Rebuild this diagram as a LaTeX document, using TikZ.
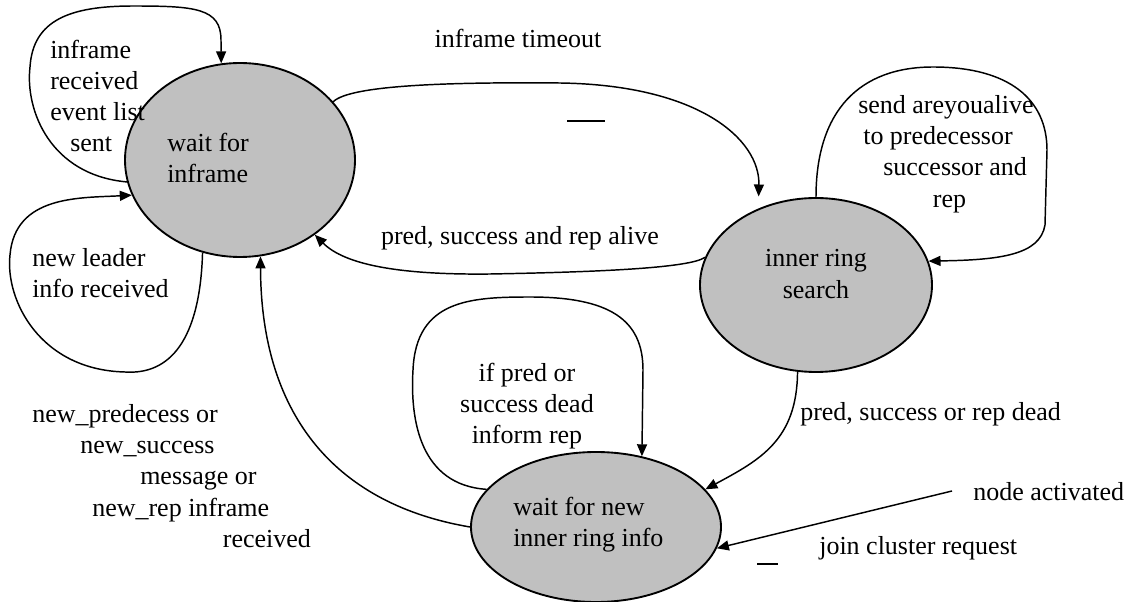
\documentclass[tikz,border=0pt]{standalone}
\usepackage{fontspec}
\setmainfont{Liberation Serif}
\usetikzlibrary{arrows.meta, shapes.geometric}

\begin{document}
\begin{tikzpicture}[
  x=0.75pt, y=-0.75pt,
  state/.style={ellipse, draw, line width=1.4pt, fill=stategray, inner sep=0pt},
  lbl/.style={inner sep=0pt, font=\fontsize{19.5}{23.4}\selectfont},
  e/.style={line width=1.1pt, -{Triangle[length=9pt,width=7.5pt]}},
  tick/.style={line width=1.1pt}
]
\definecolor{stategray}{HTML}{C0C0C0}
\useasboundingbox (0,0) rectangle (1133,602);

% --- states ---
\node[state, minimum width=172.5pt, minimum height=145.5pt] (F) at (240,160) {};
\node[state, minimum width=174pt, minimum height=130.5pt] (S) at (816,285) {};
\node[state, minimum width=187.5pt, minimum height=112.5pt] (N) at (596,527) {};

\node[lbl, align=left, anchor=west] (Ftext) at (167,158) {wait for\\inframe};
\node[lbl, align=center] (Stext) at (816,274) {inner ring\\search};
\node[lbl, align=left, anchor=west] (Ntext) at (513,525) {wait for new\\inner ring info};

% --- self loops ---
\draw[e] (F.191) .. controls (50,175) and (25,110) .. (30,67)
  .. controls (33,20) and (70,6) .. (133,6)
  .. controls (195,6) and (221,8) .. (221,40) -- (F.101);
\draw[e] (F.248) .. controls (200,340) and (170,375) .. (125,372)
  .. controls (40,370) and (5,300) .. (10,255)
  .. controls (15,195) and (80,198) .. (F.198);
\draw[e] (S.90) .. controls (816,110) and (860,67) .. (933,67)
  .. controls (1010,67) and (1047,100) .. (1047,150) -- (1045,225)
  .. controls (1040,255) and (1000,260) .. (S.12);
\draw[e] (N.161) .. controls (420,485) and (410,420) .. (413,370)
  .. controls (416,300) and (470,297) .. (530,297)
  .. controls (610,297) and (643,320) .. (643,370) -- (N.57);

\node[lbl, align=left, anchor=west] (loopF1) at (50,96) {inframe\\received\\event list\\\hspace*{15pt}sent};
\node[lbl, align=left, anchor=west] (loopF2) at (32,273) {new leader\\info received};
\node[lbl, align=left, anchor=west] (loopS) at (858,154) {send areyoualive\\\hspace*{3.75pt}to predecessor\\\hspace*{18.75pt}successor and\\\hspace*{56pt}rep};
\node[lbl, align=center] (loopN) at (527,406) {if pred or\\success dead\\inform rep};

% --- transitions ---
\draw[e, shorten >=9pt] (F.32) .. controls (350,85) and (450,82) .. (560,83)
  .. controls (700,85) and (760,140) .. (S.127);
\draw[e] (S.166) .. controls (690,268) and (600,272) .. (490,274)
  .. controls (400,275) and (345,265) .. (F.315);
\draw[e] (S.258) .. controls (797,440) and (760,460) .. (N.19);
\draw[e] (N.180) .. controls (340,505) and (261,420) .. (F.282);

\node[lbl] (tmo) at (518,38) {inframe timeout};
\node[lbl] (alive) at (520,238) {pred, success and rep alive};
\node[lbl, anchor=west] (dead) at (800,414) {pred, success or rep dead};
\node[lbl, align=left, anchor=west] (newinfo) at (32,476)
  {new\_predecess or\\\hspace*{36pt}new\_success\\\hspace*{81pt}message or\\\hspace*{45pt}new\_rep inframe\\\hspace*{143pt}received};

% --- node activated ---
\node[lbl, anchor=west] (act) at (973,492) {node activated};
\node[lbl, anchor=west] (join) at (819,548) {join cluster request};
\coordinate (actstart) at (952,491);
\draw[e] (actstart) -- (N.350);

% --- stray marks ---
\coordinate (m1a) at (567,121);
\coordinate (m1b) at (605,121);
\draw[tick] (m1a) -- (m1b);
\coordinate (m2a) at (757,564);
\coordinate (m2b) at (778,564);
\draw[tick] (m2a) -- (m2b);

\end{tikzpicture}
\end{document}
